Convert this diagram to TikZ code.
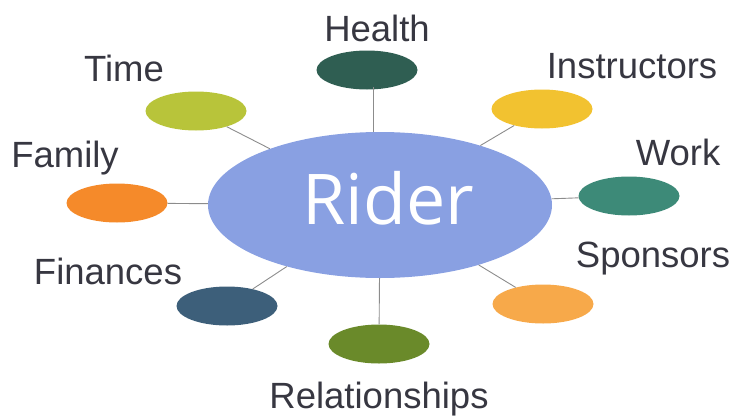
\documentclass[tikz,border=0pt]{standalone}
\usepackage{fontspec}
\setmainfont{Liberation Sans}
\newfontfamily\riderfont{Open Sans}
\usetikzlibrary{shapes.geometric}
\definecolor{cCenter}{RGB}{137,160,226}
\definecolor{cHealth}{RGB}{47,94,82}
\definecolor{cTime}{RGB}{184,196,58}
\definecolor{cInstr}{RGB}{242,194,48}
\definecolor{cFamily}{RGB}{245,138,42}
\definecolor{cWork}{RGB}{61,138,120}
\definecolor{cSpons}{RGB}{247,169,74}
\definecolor{cFin}{RGB}{61,95,122}
\definecolor{cRel}{RGB}{106,138,42}
\definecolor{cText}{RGB}{55,55,65}
\definecolor{cLine}{RGB}{140,140,140}
\tikzset{
  bubble/.style={ellipse, draw=none, inner sep=0pt, minimum width=101pt, minimum height=39pt},
  lbl/.style={text=cText, font=\fontsize{36.5}{42}\selectfont, inner sep=0pt},
  conn/.style={draw=cLine, line width=0.9pt}
}
\begin{document}
\begin{tikzpicture}[x=1pt,y=-1pt]
\useasboundingbox (0,0) rectangle (733,415);
\node[ellipse, fill=cCenter, inner sep=0pt, minimum width=344pt, minimum height=146pt] (rider) at (380,205) {};
\node[text=white, font=\riderfont\fontsize{70}{80}\selectfont, inner sep=0pt] (ridertxt) at (388,198) {Rider};
\node[bubble, fill=cHealth] (health) at (367,70) {};
\node[bubble, fill=cTime] (time) at (196,111) {};
\node[bubble, fill=cFamily] (family) at (117,203) {};
\node[bubble, fill=cInstr] (instr) at (542,109) {};
\node[bubble, fill=cWork] (work) at (629,196) {};
\node[bubble, fill=cSpons] (spons) at (543,304) {};
\node[bubble, fill=cFin] (fin) at (227,306) {};
\node[bubble, fill=cRel] (rel) at (379,344) {};
\coordinate (hbot) at (373,87);
\draw[conn] (hbot) -- (hbot |- rider.north);
\draw[conn] (time) -- (rider);
\draw[conn] (family) -- (rider);
\draw[conn] (instr) -- (rider);
\draw[conn] (work) -- (rider);
\draw[conn] (spons) -- (rider);
\draw[conn] (fin) -- (rider);
\draw[conn] (rel) -- (rider);
\node[lbl] (lhealth) at (377,28) {Health};
\node[lbl] (ltime) at (124,68) {Time};
\node[lbl] (lfamily) at (65,158) {Family};
\node[lbl] (linstr) at (632,66) {Instructors};
\node[lbl] (lwork) at (678,152) {Work};
\node[lbl] (lspons) at (653,259) {Sponsors};
\node[lbl] (lfin) at (108,271) {Finances};
\node[lbl] (lrel) at (379,399) {Relationships};
\end{tikzpicture}
\end{document}
